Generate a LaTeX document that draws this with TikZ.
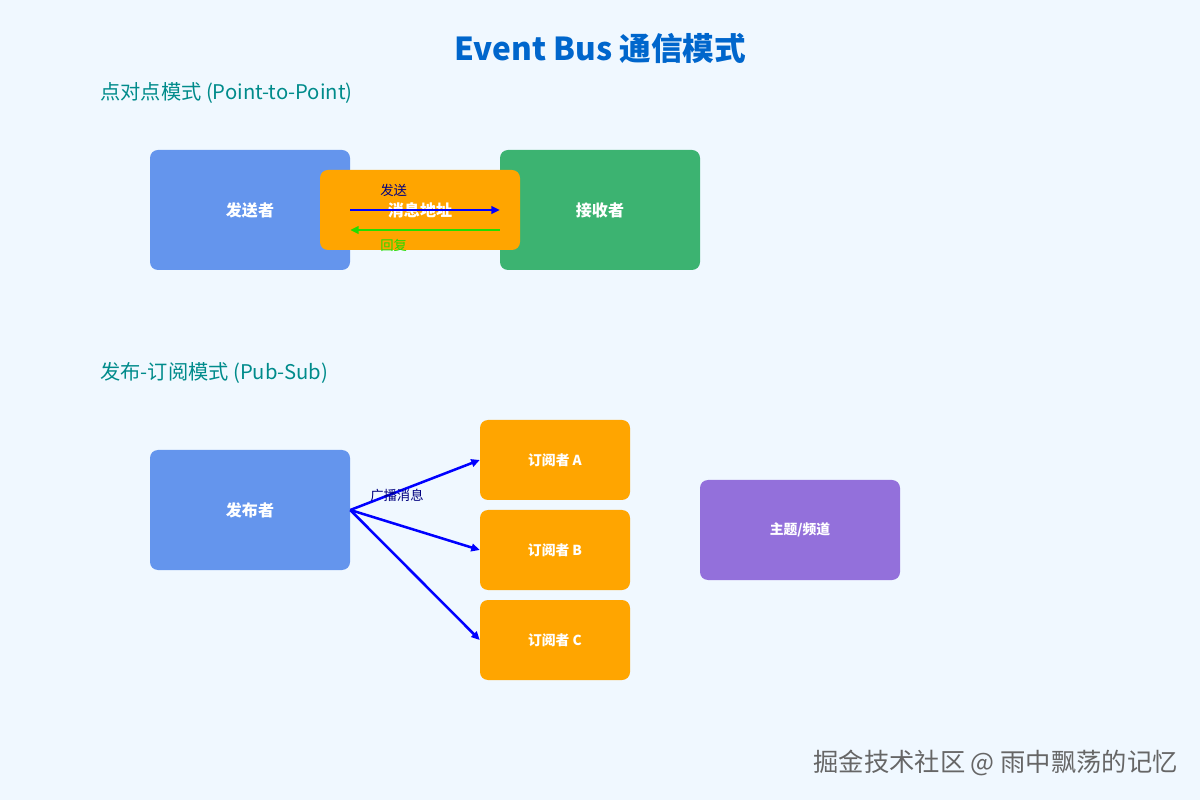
\documentclass[tikz,border=0pt]{standalone}
\usepackage{fontspec}
\setmainfont{Noto Sans CJK SC}
\usetikzlibrary{arrows.meta}
\definecolor{bgblue}{HTML}{F0F8FF}
\definecolor{titleblue}{HTML}{0066CC}
\definecolor{secteal}{HTML}{008B8B}
\definecolor{boxblue}{HTML}{6495ED}
\definecolor{boxgreen}{HTML}{3CB371}
\definecolor{boxorange}{HTML}{FFA500}
\definecolor{boxpurple}{HTML}{9370DB}
\definecolor{msgnavy}{HTML}{000080}
\definecolor{replygreen}{HTML}{22DD00}
\begin{document}
\begin{tikzpicture}[
  box/.style={rectangle,rounded corners=0.2cm,text=white,font=\bfseries\fontsize{11.4}{13}\selectfont,
    minimum width=5cm,minimum height=3cm,inner sep=0},
  subbox/.style={box,fill=boxorange,minimum width=3.75cm,minimum height=2cm,font=\bfseries\fontsize{9.8}{11}\selectfont},
  section/.style={anchor=west,inner sep=0,text=secteal,font=\fontsize{14.4}{17}\selectfont},
  msg/.style={anchor=west,font=\fontsize{9.5}{11}\selectfont,inner sep=0},
  flow/.style={line width=1.8pt,-{Triangle[length=6pt,width=5.5pt]}}]
\fill[bgblue](0,0)rectangle(30,20);
\node[text=titleblue,font=\bfseries\fontsize{22.5}{26}\selectfont](title)at(15,18.8){Event Bus 通信模式};
% point-to-point
\node[section](p2p)at(2.5,17.675){点对点模式 (Point-to-Point)};
\node[box,fill=boxblue](sender)at(6.25,14.75){发送者};
\node[box,fill=boxgreen](receiver)at(15,14.75){接收者};
\node[box,fill=boxorange,minimum height=2cm](addr)at(10.5,14.75){消息地址};
\draw[flow,blue](sender.east)--(receiver.west);
\draw[flow,replygreen]([yshift=-0.5cm]receiver.west)--([yshift=-0.5cm]sender.east);
\node[msg,text=msgnavy](sendlbl)at(9.5,15.25){发送};
\node[msg,text=replygreen](replylbl)at(9.5,13.875){回复};
% publish-subscribe
\node[section](pubsub)at(2.5,10.675){发布-订阅模式 (Pub-Sub)};
\node[box,fill=boxblue](pub)at(6.25,7.25){发布者};
\node[subbox](subA)at(13.875,8.5){订阅者 A};
\node[subbox](subB)at(13.875,6.25){订阅者 B};
\node[subbox](subC)at(13.875,4){订阅者 C};
\node[box,fill=boxpurple,minimum height=2.5cm,font=\bfseries\fontsize{9.8}{11}\selectfont](topic)at(20,6.75){主题/频道};
\foreach \s in {subA,subB,subC}
  \draw[flow,blue](pub.east)--(\s.west);
\node[msg,text=msgnavy](bcast)at(9.25,7.625){广播消息};
\node[anchor=east,inner sep=0,text=black!60,font=\fontsize{18}{21}\selectfont](mark)at(29.45,0.925){掘金技术社区 @ 雨中飘荡的记忆};
\end{tikzpicture}
\end{document}
